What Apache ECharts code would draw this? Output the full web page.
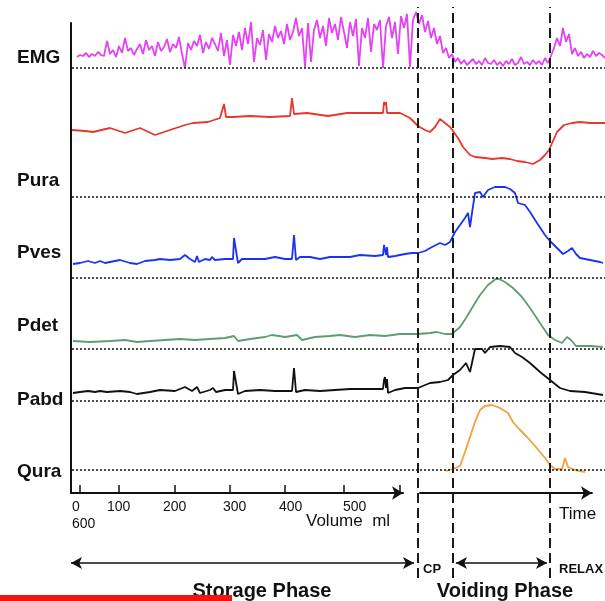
<!DOCTYPE html>
<html>
<head>
<meta charset="utf-8">
<title>Urodynamic phases</title>
<script src="https://cdn.jsdelivr.net/npm/echarts@6/dist/echarts.min.js"></script>
<style>
  html, body { margin: 0; padding: 0; background: #fff; }
  #main { width: 605px; height: 601px; }
</style>
</head>
<body>
<div id="main"></div>
<script>
// time position t along the trace, amplitude = height above the trace's own baseline
var emgStart = 5, emgStep = 3;
var emgValues = [
  11, 13, 12, 15, 11, 14, 12, 16, 13, 12,
  27, 14, 18, 11, 22, 15, 30, 17, 20, 13,
  19, 24, 14, 28, 18, 22, 12, 26, 17, 21,
  29, 16, 24, 20, 31, 14, 0, 25, 18, 27,
  22, 33, 15, 26, 19, 30, 24, 17, 35, 12,
  28, 3, 33, 22, 36, 18, 40, 24, 46, 6,
  30, 23, 38, 8, 34, 26, 42, 30, 37, 24,
  44, 28, 36, 50, 32, 40, 1, 45, 6, 38,
  48, 30, 42, 22, 50, 35, 44, 28, 51, 36,
  20, 46, 32, 49, 2, 40, 30, 50, 16, 44,
  38, 48, 0, 42, 51, 30, 46, 14, 52, 40,
  54, 1, 48, 56, 44, 53, 36, 47, 30, 40,
  24, 32, 15, 20, 10, 14, 6, 10, 4, 8,
  3, 6, 9, 4, 7, 3, 10, 5, 4, 8,
  3, 6, 2, 7, 4, 9, 3, 5, 11, 4,
  6, 3, 8, 4, 7, 3, 10, 5, 12, 20,
  30, 22, 40, 26, 34, 14, 20, 12, 16, 10,
  14, 11, 17, 12, 15, 13, 10
];

var puraT = [0, 13, 21, 38, 53, 68, 83, 98, 113, 121, 136, 148, 152, 154, 161, 178, 198, 218, 220, 222, 235, 256, 275, 298, 311, 312, 313, 314, 315, 328, 338, 346, 353, 358, 363, 368, 373, 378, 381, 386, 391, 398, 403, 413, 420, 430, 438, 445, 453, 461, 468, 473, 477, 481, 485, 492, 500, 508, 518, 533];
var puraV = [67, 66, 65, 69, 64, 69, 62, 67, 72, 74, 75, 79, 93, 80, 80, 81, 80, 81, 99, 83, 84, 81, 84, 84, 84, 95, 92, 95, 84, 84, 79, 71, 67, 65, 70, 78, 74, 70, 66, 59, 50, 42, 40, 39, 38, 39, 38, 36, 35, 33, 37, 42, 47, 56, 65, 72, 74, 75, 74, 74];

var pvesT = [1, 8, 16, 23, 28, 33, 43, 48, 58, 65, 73, 83, 88, 98, 108, 113, 118, 123, 125, 127, 133, 138, 140, 143, 153, 161, 162, 164, 166, 170, 183, 193, 203, 213, 220, 222, 224, 228, 238, 248, 258, 268, 278, 288, 303, 311, 312, 313, 314, 315, 316, 323, 333, 340, 346, 353, 360, 368, 373, 378, 383, 388, 393, 396, 398, 400, 403, 408, 411, 416, 423, 433, 438, 443, 446, 453, 458, 465, 473, 478, 485, 491, 496, 500, 504, 508, 518, 528, 531];
var pvesV = [14, 15, 17, 15, 17, 15, 17, 18, 15, 14, 17, 18, 19, 18, 19, 23, 19, 16, 22, 16, 19, 18, 21, 18, 19, 19, 40, 38, 15, 19, 19, 19, 21, 19, 19, 43, 18, 21, 21, 19, 21, 21, 21, 23, 22, 23, 33, 35, 23, 31, 21, 22, 24, 25, 25, 27, 31, 35, 33, 36, 46, 53, 60, 65, 51, 65, 85, 86, 81, 88, 91, 91, 89, 85, 75, 73, 66, 55, 43, 37, 30, 24, 27, 30, 24, 20, 18, 16, 15];

var pdetT = [1, 18, 38, 53, 65, 78, 93, 108, 123, 138, 153, 162, 166, 178, 193, 200, 213, 225, 230, 243, 258, 268, 283, 298, 313, 328, 346, 358, 365, 373, 380, 388, 394, 400, 408, 416, 425, 433, 441, 450, 458, 468, 476, 483, 490, 495, 499, 504, 518, 531];
var pdetV = [8, 7, 8, 9, 7, 8, 9, 10, 9, 10, 11, 13, 8, 10, 12, 14, 12, 14, 9, 12, 13, 14, 12, 14, 13, 15, 15, 16, 17, 15, 15, 22, 31, 41, 54, 64, 71, 67, 61, 52, 41, 26, 14, 9, 6, 12, 9, 3, 3, 2];

var pabdT = [1, 8, 16, 23, 28, 35, 48, 58, 65, 78, 88, 103, 113, 120, 125, 128, 138, 141, 144, 153, 161, 162, 164, 166, 173, 188, 203, 220, 222, 224, 233, 248, 263, 278, 293, 311, 312, 313, 314, 315, 316, 323, 333, 346, 358, 368, 376, 381, 388, 394, 398, 403, 410, 413, 418, 428, 438, 443, 450, 458, 468, 478, 488, 498, 513, 531];
var pabdV = [8, 9, 10, 9, 10, 9, 10, 9, 7, 9, 11, 10, 14, 10, 14, 8, 11, 13, 9, 11, 11, 30, 28, 7, 10, 11, 10, 10, 33, 9, 11, 10, 11, 12, 12, 12, 21, 24, 13, 22, 8, 11, 13, 13, 18, 19, 21, 26, 31, 38, 29, 52, 52, 48, 54, 55, 54, 48, 44, 38, 29, 21, 13, 10, 9, 6];

var quraT = [374, 381, 388, 393, 398, 403, 408, 413, 420, 428, 436, 441, 448, 455, 463, 473, 478, 483, 490, 493, 496, 503, 513];
var quraV = [-1, 1, 4, 18, 33, 48, 60, 64, 65, 62, 57, 48, 40, 33, 24, 12, 5, 1, 1, 12, 3, 0, -2];

var traceNames = ['EMG', 'Pura', 'Pves', 'Pdet', 'Pabd', 'Qura'];
var phaseBounds = [346, 381, 478];          // CP start, voiding start, relax start
var volumeTicks = [9, 48, 104, 159, 214, 273, 329];
var volumeLabelPos = [1, 36, 92, 152, 208, 272];
var volumeLabels = ['0\n600', '100', '200', '300', '400', '500'];

// layout of the stacked traces
var baseY = [68, 197, 278, 349, 401, 470];
var ampMax = [63, 105, 95, 75, 60, 70];
var nameY = [58, 181, 253, 326, 400, 472];
var colors = ['#e443f4', '#e8372e', '#1b32f2', '#5e9c72', '#111111', '#f2a23a'];

function pairs(ts, vs) {
  return ts.map(function (t, i) { return [t, vs[i]]; });
}
var emgT = emgValues.map(function (v, i) { return emgStart + i * emgStep; });
var traces = [
  pairs(emgT, emgValues),
  pairs(puraT, puraV),
  pairs(pvesT, pvesV),
  pairs(pdetT, pdetV),
  pairs(pabdT, pabdV),
  pairs(quraT, quraV)
];

var FONT = "'Liberation Sans', Arial, sans-serif";
var grid = [], xAxis = [], yAxis = [], series = [], graphic = [];

traces.forEach(function (d, i) {
  grid.push({ left: 72, width: 533, top: baseY[i] - ampMax[i], height: ampMax[i] + 10 });
  xAxis.push({ gridIndex: i, type: 'value', min: 0, max: 533, show: false });
  yAxis.push({ gridIndex: i, type: 'value', min: -10, max: ampMax[i], show: false });
  series.push({
    name: traceNames[i],
    type: 'line',
    xAxisIndex: i,
    yAxisIndex: i,
    data: d,
    showSymbol: false,
    lineStyle: { color: colors[i], width: 1.8 },
    markLine: {
      silent: true,
      symbol: 'none',
      label: { show: false },
      lineStyle: { color: '#111', type: [2, 2], width: 1.5 },
      data: [{ yAxis: 0 }]
    }
  });
  graphic.push({
    type: 'text', x: 17, y: nameY[i],
    style: { text: traceNames[i], font: 'bold 19px ' + FONT, fill: '#111', textVerticalAlign: 'middle' }
  });
});

// overlay: phase boundaries and phase arrows
grid.push({ left: 62, width: 543, top: 7, height: 571 });
xAxis.push({ gridIndex: 6, type: 'value', min: -10, max: 533, show: false });
yAxis.push({ gridIndex: 6, type: 'value', min: 0, max: 571, show: false });
series.push({
  type: 'line', xAxisIndex: 6, yAxisIndex: 6, data: [],
  markLine: {
    silent: true, symbol: 'none', label: { show: false },
    lineStyle: { color: '#1a1a1a', type: [10, 5], width: 2 },
    data: phaseBounds.map(function (b) { return { xAxis: b }; })
  }
});
series.push({
  type: 'line', xAxisIndex: 6, yAxisIndex: 6, data: [],
  markLine: {
    silent: true, symbol: ['arrow', 'arrow'], symbolSize: [9, 11], label: { show: false },
    lineStyle: { color: '#111', type: 'solid', width: 1.6 },
    data: [
      [{ coord: [-1, 15] }, { coord: [phaseBounds[0] - 4, 15] }],
      [{ coord: [phaseBounds[1] + 3, 15] }, { coord: [phaseBounds[2] - 3, 15] }]
    ]
  }
});

// volume axis + vertical axis
grid.push({ left: 71, width: 332, top: 23, height: 470 });
xAxis.push({
  gridIndex: 7, type: 'value', min: 0, max: 332,
  axisLine: { show: true, onZero: false, symbol: ['none', 'arrow'], symbolSize: [10, 11], lineStyle: { color: '#111', width: 2 } },
  axisTick: { show: true, inside: true, length: 8, customValues: volumeTicks, lineStyle: { color: '#111', width: 1.5 } },
  axisLabel: {
    customValues: volumeLabelPos, align: 'left', margin: 6, fontSize: 14, lineHeight: 17,
    color: '#111', fontFamily: FONT,
    formatter: function (v) { var k = volumeLabelPos.indexOf(v); return k < 0 ? '' : volumeLabels[k]; }
  },
  splitLine: { show: false }
});
yAxis.push({
  gridIndex: 7, type: 'value', min: 0, max: 1,
  axisLine: { show: true, onZero: false, lineStyle: { color: '#111', width: 2 } },
  axisTick: { show: false }, axisLabel: { show: false }, splitLine: { show: false }
});

// time axis
grid.push({ left: 420, width: 172, top: 23, height: 470 });
xAxis.push({
  gridIndex: 8, type: 'value', min: 0, max: 1,
  axisLine: { show: true, onZero: false, symbol: ['none', 'arrow'], symbolSize: [10, 11], lineStyle: { color: '#111', width: 1.8 } },
  axisTick: { show: false }, axisLabel: { show: false }, splitLine: { show: false }
});
yAxis.push({ gridIndex: 8, type: 'value', show: false });

graphic.push(
  { type: 'text', x: 306, y: 521, style: { text: 'Volume  ml', font: '17px ' + FONT, fill: '#111', textVerticalAlign: 'middle' } },
  { type: 'text', x: 559, y: 514, style: { text: 'Time', font: '17px ' + FONT, fill: '#111', textVerticalAlign: 'middle' } },
  { type: 'text', x: 423, y: 569, style: { text: 'CP', font: 'bold 13px ' + FONT, fill: '#111', textVerticalAlign: 'middle' } },
  { type: 'text', x: 559, y: 569, style: { text: 'RELAX', font: 'bold 13px ' + FONT, fill: '#111', textVerticalAlign: 'middle' } },
  { type: 'text', x: 262, y: 591, style: { text: 'Storage Phase', font: 'bold 20px ' + FONT, fill: '#111', textAlign: 'center', textVerticalAlign: 'middle' } },
  { type: 'text', x: 505, y: 591, style: { text: 'Voiding Phase', font: 'bold 20px ' + FONT, fill: '#111', textAlign: 'center', textVerticalAlign: 'middle' } },
  { type: 'rect', shape: { x: 0, y: 595, width: 232, height: 6 }, style: { fill: '#f5120f' } }
);

var myChart = echarts.init(document.getElementById('main'));
var option = {
  animation: false,
  backgroundColor: '#fff',
  grid: grid,
  xAxis: xAxis,
  yAxis: yAxis,
  series: series,
  graphic: graphic
};
option && myChart.setOption(option);
</script>
</body>
</html>
